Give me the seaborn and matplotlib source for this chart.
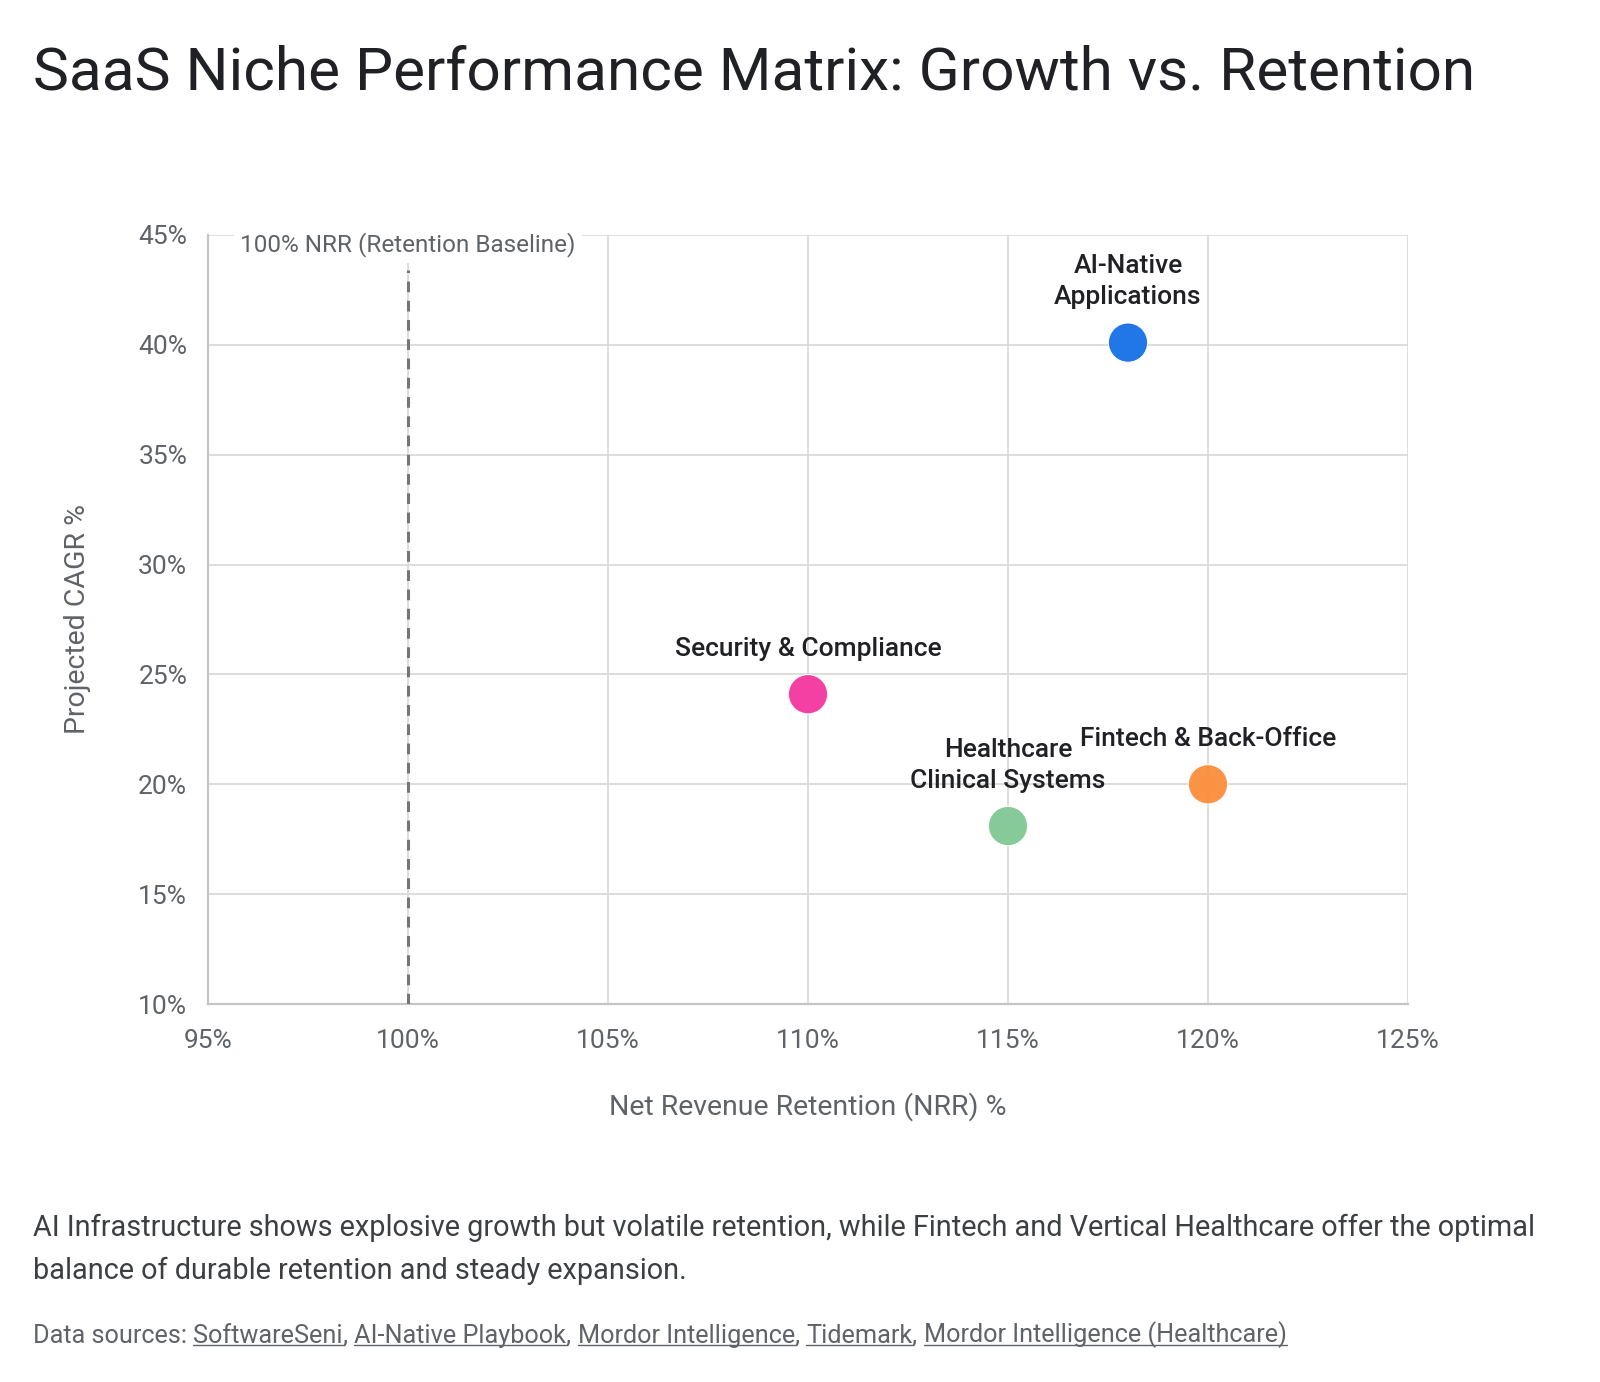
import matplotlib
matplotlib.use("Agg")
import matplotlib.pyplot as plt
import seaborn as sns
import pandas as pd
from matplotlib.lines import Line2D
from matplotlib.transforms import IdentityTransform
from matplotlib.ticker import FuncFormatter, MultipleLocator

# ---- data ----
niches = ["AI-Native\nApplications", "Security & Compliance", "Healthcare\nClinical Systems", "Fintech & Back-Office"]
nrr = [118, 110, 115, 120]
cagr = [40.1, 24.1, 18.1, 20.0]
colors = ["#1a73e8", "#f439a0", "#81c995", "#fa903e"]

title = "SaaS Niche Performance Matrix: Growth vs. Retention"
x_label = "Net Revenue Retention (NRR) %"
y_label = "Projected CAGR %"
baseline_label = "100% NRR (Retention Baseline)"
baseline_x = 100
caption = ("AI Infrastructure shows explosive growth but volatile retention, while Fintech and Vertical Healthcare offer the optimal\n"
           "balance of durable retention and steady expansion.")
sources_prefix = "Data sources: "
source_names = ["SoftwareSeni", "AI-Native Playbook", "Mordor Intelligence", "Tidemark", "Mordor Intelligence (Healthcare)"]

df = pd.DataFrame({"niche": niches, "nrr": nrr, "cagr": cagr})

sns.set_theme(style="whitegrid")
FONT = ["Roboto", "DejaVu Sans"]
plt.rcParams["font.family"] = FONT

fig = plt.figure(figsize=(16, 13.82), dpi=100)
ax = fig.add_axes([0.13, 0.2735, 0.75, 0.5565])

sns.scatterplot(data=df, x="nrr", y="cagr", hue="niche", palette=colors, s=800,
                edgecolor="#ffffff", linewidth=0.8, alpha=0.97, legend=False, ax=ax, zorder=5)

ax.set_xlim(95, 125)
ax.set_ylim(10, 45)
ax.xaxis.set_major_locator(MultipleLocator(5))
ax.yaxis.set_major_locator(MultipleLocator(5))
pct = FuncFormatter(lambda v, p: f"{v:.0f}%")
ax.xaxis.set_major_formatter(pct)
ax.yaxis.set_major_formatter(pct)

grid_c = "#dadada"
ax.grid(True, color=grid_c, linewidth=1.3)
for s in ["top", "right"]:
    ax.spines[s].set_visible(False)
for s in ["left", "bottom"]:
    ax.spines[s].set_visible(True)
    ax.spines[s].set_color("#c4c4c4")
    ax.spines[s].set_linewidth(1.6)
ax.tick_params(axis="both", which="major", length=9, width=1.3, color=grid_c,
               labelsize=19, labelcolor="#5f6368")
ax.tick_params(axis="y", pad=6)
ax.tick_params(axis="x", pad=9)

ax.set_xlabel(x_label, fontsize=20.5, color="#5f6368", labelpad=28)
ax.set_ylabel(y_label, fontsize=20.5, color="#5f6368", labelpad=34)

# baseline
ax.plot([baseline_x, baseline_x], [10, 43.4], color="#757575", linewidth=2.2,
        dashes=(3.5, 2.8), zorder=3)
ax.text(baseline_x, 44.55, baseline_label, ha="center", va="center", fontsize=17.5,
        color="#5f6368", zorder=4,
        bbox=dict(boxstyle="square,pad=0.25", facecolor="white", edgecolor="none"))

# point labels
for name, x, y in zip(niches, nrr, cagr):
    ax.annotate(name, xy=(x, y), xytext=(0, 24), textcoords="offset points",
                ha="center", va="bottom", fontsize=19, fontweight="medium",
                color="#202124", linespacing=1.36, zorder=6)

# title
fig.text(33 / 1600, 1 - 90 / 1382, title, fontsize=43.5, color="#202124",
         ha="left", va="baseline")

# caption
fig.text(33 / 1600, 1 - 1279 / 1382, caption, fontsize=20.8, color="#3c4043",
         ha="left", va="baseline", linespacing=1.65)

# sources line with underlined names
src_c = "#5f6368"
fs_src = 18.2
t = fig.text(33 / 1600, 1 - 1348 / 1382, sources_prefix, fontsize=fs_src, color=src_c,
             ha="left", va="bottom")
name_texts = []
prev = t
for i, nm in enumerate(source_names):
    a = ax.annotate(nm, xy=(1, 0), xycoords=prev, xytext=(0, 0), textcoords="offset points",
                    ha="left", va="bottom", fontsize=fs_src, color=src_c, annotation_clip=False)
    name_texts.append(a)
    prev = a
    if i < len(source_names) - 1:
        sep = ax.annotate(", ", xy=(1, 0), xycoords=prev, xytext=(0, 0), textcoords="offset points",
                          ha="left", va="bottom", fontsize=fs_src, color=src_c, annotation_clip=False)
        prev = sep

fig.canvas.draw()
r = fig.canvas.get_renderer()
for a in name_texts:
    bb = a.get_window_extent(r)
    yline = bb.y0 + bb.height * 0.12
    fig.add_artist(Line2D([bb.x0, bb.x1], [yline, yline], transform=IdentityTransform(),
                          color=src_c, linewidth=1.0))

fig.savefig("out.png", dpi=100, facecolor="white")
